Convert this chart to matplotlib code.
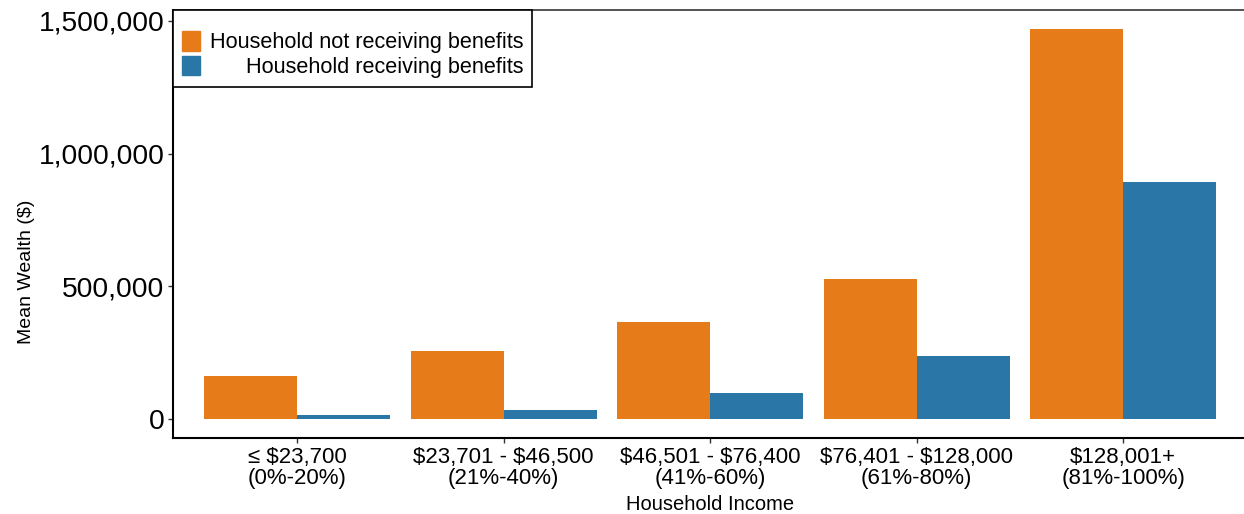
import numpy as np
import matplotlib.pyplot as plt
from matplotlib.patches import Patch

plt.rcParams['font.family'] = ['Liberation Sans', 'DejaVu Sans']
plt.rcParams['text.parse_math'] = False

groups = ['≤ $23,700\n(0%-20%)', '$23,701 - $46,500\n(21%-40%)',
          '$46,501 - $76,400\n(41%-60%)', '$76,401 - $128,000\n(61%-80%)',
          '$128,001+\n(81%-100%)']
not_receiving = [163000, 257000, 364000, 528000, 1468000]
receiving = [15000, 34000, 98000, 238000, 891000]
yticks = [0, 500000, 1000000, 1500000]

orange = '#E67B1A'
blue = '#2A76A7'

W, H = 1244, 514
fig = plt.figure(figsize=(W / 100, H / 100), dpi=100)
left, right, top, bottom = 173.3, 1247, 10, 438.3
ax = fig.add_axes([left / W, 1 - bottom / H, (right - left) / W, (bottom - top) / H])

x = np.arange(len(groups))
bw = 0.45
ax.bar(x - bw / 2, not_receiving, bw, color=orange, linewidth=0)
ax.bar(x + bw / 2, receiving, bw, color=blue, linewidth=0)

ax.set_xlim(-0.6, 4.6)
ax.set_ylim(-73000, 1541000)
ax.set_xticks(x)
ax.set_xticklabels(groups, fontsize=16, linespacing=1.0)
ax.set_yticks(yticks)
ax.set_yticklabels([f'{v:,}' for v in yticks], fontsize=20.3)
ax.tick_params(axis='both', length=3.5, width=1, color='#333333', pad=3)

for s in ['left', 'bottom']:
    ax.spines[s].set_linewidth(1.5)
    ax.spines[s].set_color('black')
ax.spines['top'].set_linewidth(1.3)
ax.spines['top'].set_color('#444444')
ax.spines['right'].set_visible(False)

ax.set_xlabel('Household Income', fontsize=14.5, labelpad=4)
ax.set_ylabel('Mean Wealth ($)', fontsize=14)
ax.yaxis.set_label_coords(-0.129, 0.388)

handles = [Patch(color=orange), Patch(color=blue)]
labels = ['Household not receiving benefits', 'Household receiving benefits']
leg = ax.legend(handles, labels, loc='upper left', bbox_to_anchor=(0, 1),
                borderaxespad=0, fontsize=15.6, fancybox=False, framealpha=1,
                edgecolor='black', handlelength=0.85, handleheight=1.0,
                handletextpad=0.43, labelspacing=0.12, borderpad=0.4,
                title=' ', title_fontsize=8)
leg.get_frame().set_linewidth(1.2)

# right-align the legend labels like the original
fig.canvas.draw()
texts = leg.get_texts()
widths = [t.get_window_extent().width for t in texts]
for t, w in zip(texts, widths):
    t.set_x(max(widths) - w)

fig.savefig('out.png', dpi=100)
